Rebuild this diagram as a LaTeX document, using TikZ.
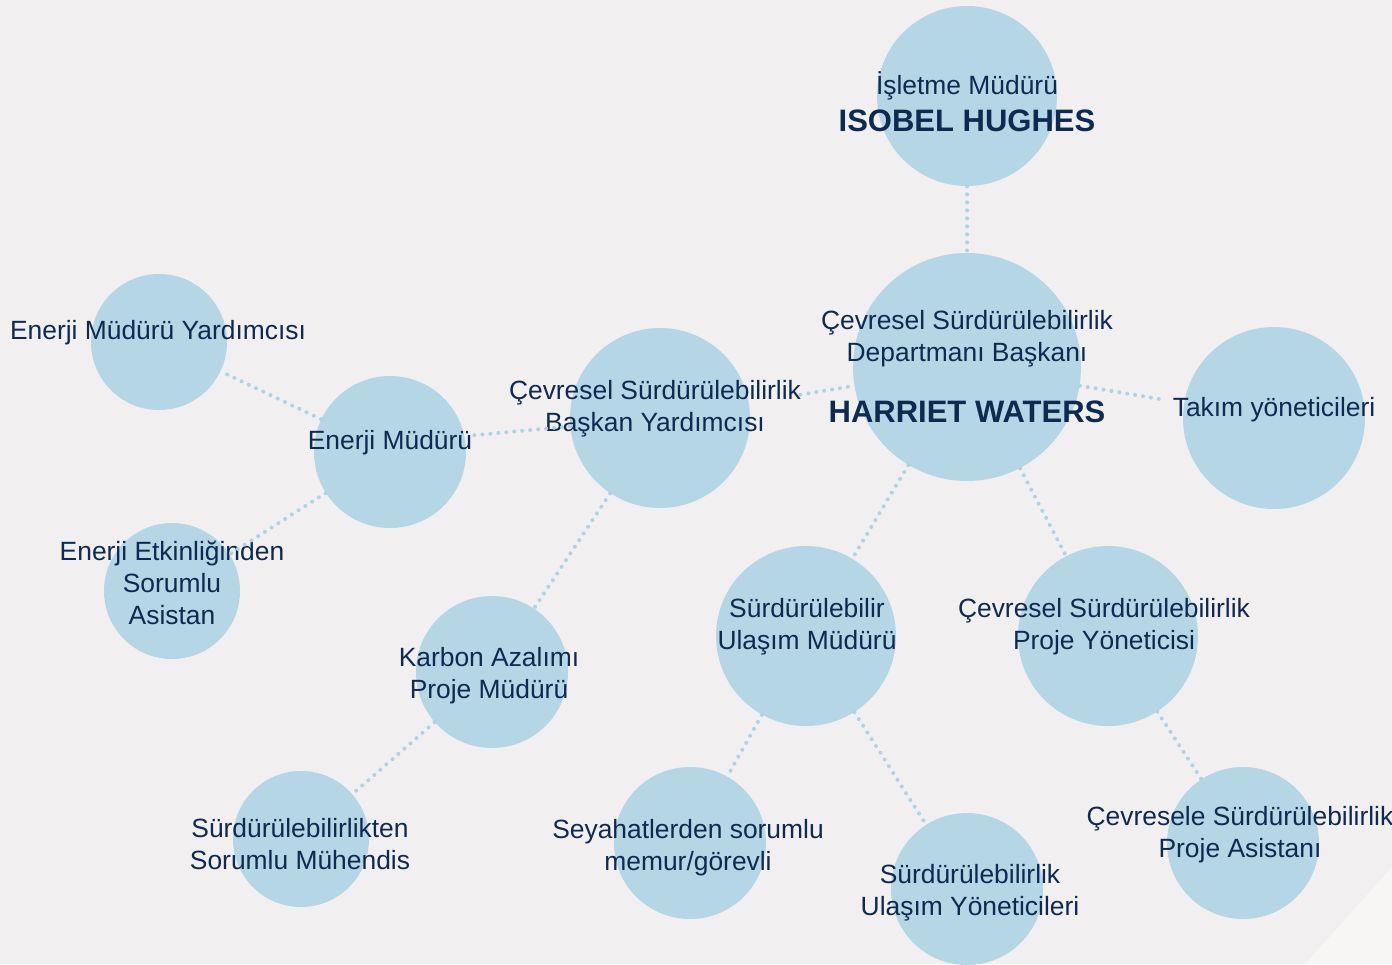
\documentclass[tikz,border=0pt]{standalone}
\usepackage{fontspec}
\setmainfont{Liberation Sans}
\definecolor{paper}{HTML}{F1EFEF}
\definecolor{paperlight}{HTML}{F7F6F5}
\definecolor{bubble}{HTML}{B4D6E5}
\definecolor{dotline}{HTML}{AED3E4}
\definecolor{ink}{HTML}{0E2A50}
\tikzset{
  bubblenode/.style={circle, fill=bubble, inner sep=0pt, minimum size=#1pt},
  lbl/.style={text=ink, align=center, inner sep=0pt, font=\fontsize{13.2}{16}\selectfont},
  namelbl/.style={text=ink, align=center, inner sep=0pt, font=\fontsize{15.5}{18}\selectfont\bfseries},
  link/.style={draw=dotline, line width=2pt, line cap=round, dash pattern=on 0pt off 4pt}
}
\begin{document}
\begin{tikzpicture}[x=0.5pt, y=-0.5pt]
  % page and corner
  \fill[paper] (0,0) rectangle (1392,964);
  \fill[paperlight] (1305,964) -- (1392,867) -- (1392,964) -- cycle;
  \useasboundingbox (0,0) rectangle (1392,964);

  % circles
  \node[bubblenode=90]  (ceo)    at (967,96)  {};
  \node[bubblenode=114] (head)   at (967,367) {};
  \node[bubblenode=91]  (team)   at (1274,418) {};
  \node[bubblenode=90]  (deputy) at (660,418) {};
  \node[bubblenode=76]  (energy) at (390,452) {};
  \node[bubblenode=68]  (enass)  at (159,342) {};
  \node[bubblenode=68]  (eneff)  at (172,591) {};
  \node[bubblenode=76]  (carbon) at (492,672) {};
  \node[bubblenode=68]  (eng)    at (301,839) {};
  \node[bubblenode=90]  (trans)  at (806,636) {};
  \node[bubblenode=90]  (proj)   at (1108,636) {};
  \node[bubblenode=76]  (travel) at (690,843) {};
  \node[bubblenode=76]  (transm) at (967,889) {};
  \node[bubblenode=76]  (projas) at (1243,843) {};

  % texts
  \node[lbl]     (ceo-t)    at (967,86)   {İşletme Müdürü};
  \node[namelbl] (ceo-n)    at (967,121)  {ISOBEL HUGHES};
  \node[lbl]     (head-t)   at (967,339)  {Çevresel Sürdürülebilirlik\\Departmanı Başkanı};
  \node[namelbl] (head-n)   at (967,412)  {HARRIET WATERS};
  \node[lbl]     (team-t)   at (1274,410) {Takım yöneticileri};
  \node[lbl]     (deputy-t) at (655,409)  {Çevresel Sürdürülebilirlik\\Başkan Yardımcısı};
  \node[lbl]     (energy-t) at (390,443)  {Enerji Müdürü};
  \node[lbl]     (enass-t)  at (158,333)  {Enerji Müdürü Yardımcısı};
  \node[lbl]     (eneff-t)  at (172,583)  {Enerji Etkinliğinden\\Sorumlu\\Asistan};
  \node[lbl]     (carbon-t) at (489,676)  {Karbon Azalımı\\Proje Müdürü};
  \node[lbl]     (eng-t)    at (300,844)  {Sürdürülebilirlikten\\Sorumlu Mühendis};
  \node[lbl]     (trans-t)  at (807,627)  {Sürdürülebilir\\Ulaşım Müdürü};
  \node[lbl]     (proj-t)   at (1104,627) {Çevresel Sürdürülebilirlik\\Proje Yöneticisi};
  \node[lbl]     (travel-t) at (688,848)  {Seyahatlerden sorumlu\\memur/görevli};
  \node[lbl]     (transm-t) at (970,893)  {Sürdürülebilirlik\\Ulaşım Yöneticileri};
  \node[lbl]     (projas-t) at (1240,835) {Çevresele Sürdürülebilirlik\\Proje Asistanı};

  % dotted links
  \draw[link] (ceo) -- (head);
  \draw[link, shorten <=26pt] (deputy) -- (head);
  \draw[link, shorten >=9pt] (head) -- (team);
  \draw[link] (deputy) -- (energy-t);
  \draw[link] (energy) -- (enass);
  \draw[link] (energy) -- (eneff);
  \draw[link] (deputy) -- (carbon);
  \draw[link] (carbon) -- (eng);
  \draw[link] (head) -- (trans);
  \draw[link] (head) -- (proj);
  \draw[link] (trans) -- (travel);
  \draw[link] (trans) -- (transm);
  \draw[link] (proj) -- (projas);
\end{tikzpicture}
\end{document}
